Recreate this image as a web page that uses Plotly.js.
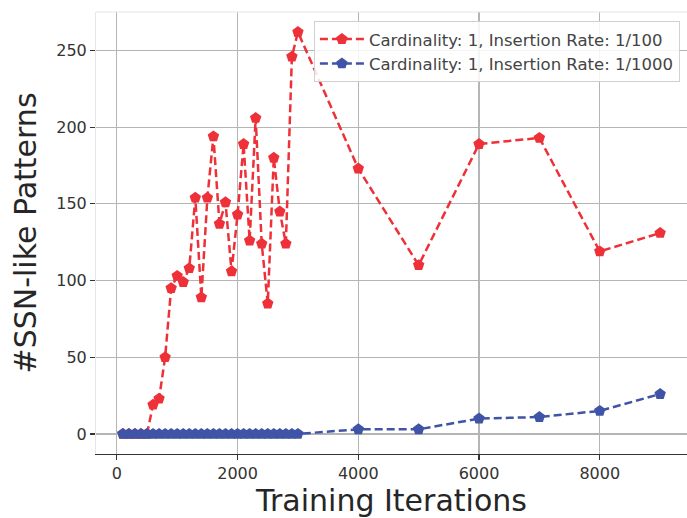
<!DOCTYPE html>
<html>
<head>
<meta charset="utf-8">
<script src="https://cdn.plot.ly/plotly-3.0.1.min.js"></script>
<style>html,body{margin:0;padding:0;background:#fff;}#chart{width:687px;height:518px;}</style>
</head>
<body>
<div id="chart"></div>
<script>
// Red series: Cardinality 1, Insertion Rate 1/100
var redX = [100,200,300,400,500,600,700,800,900,1000,1100,1200,1300,1400,1500,1600,1700,1800,1900,2000,2100,2200,2300,2400,2500,2600,2700,2800,2900,3000,4000,5000,6000,7000,8000,9000];
var redY = [0,0,0,0,0,19,23,50,95,103,99,108,154,89,154,194,137,151,106,143,189,126,206,124,85,180,145,124,246,262,173,110,189,193,119,131];
// Blue series: Cardinality 1, Insertion Rate 1/1000
var blueX = [100,200,300,400,500,600,700,800,900,1000,1100,1200,1300,1400,1500,1600,1700,1800,1900,2000,2100,2200,2300,2400,2500,2600,2700,2800,2900,3000,4000,5000,6000,7000,8000,9000];
var blueY = [0,0,0,0,0,0,0,0,0,0,0,0,0,0,0,0,0,0,0,0,0,0,0,0,0,0,0,0,0,0,3,3,10,11,15,26];
var seriesNames = ["Cardinality: 1, Insertion Rate: 1/100", "Cardinality: 1, Insertion Rate: 1/1000"];
var xTicks = [0,2000,4000,6000,8000];
var yTicks = [0,50,100,150,200,250];

var traces = [
  {x: redX, y: redY, name: seriesNames[0], type: 'scatter', mode: 'lines+markers',
   line: {color: '#ee3138', width: 2.5, dash: '8px,4px'},
   marker: {symbol: 'pentagon', size: 12, color: '#ee3138'}},
  {x: blueX, y: blueY, name: seriesNames[1], type: 'scatter', mode: 'lines+markers',
   line: {color: '#3f54a6', width: 2.5, dash: '8px,4px'},
   marker: {symbol: 'pentagon', size: 12, color: '#3f54a6'}}
];

var layout = {
  width: 687, height: 518,
  margin: {l: 96, r: 0, t: 12, b: 64},
  paper_bgcolor: '#ffffff', plot_bgcolor: '#ffffff',
  font: {family: 'DejaVu Sans', color: '#333'},
  showlegend: true,
  legend: {x: 0.988, xanchor: 'right', y: 0.98, yanchor: 'top',
    bgcolor: 'rgba(255,255,255,0.85)', bordercolor: '#d0d0d0', borderwidth: 1,
    tracegroupgap: 0, itemwidth: 44,
    font: {family: 'DejaVu Sans', size: 16.5, color: '#444'}},
  xaxis: {
    range: [-345, 9445], tickvals: xTicks, ticktext: xTicks.map(String),
    showgrid: true, gridcolor: '#b5b5b5', gridwidth: 1.2, zeroline: false,
    showline: true, linecolor: '#333', linewidth: 1.2,
    ticks: 'outside', ticklen: 5, tickcolor: '#333', tickwidth: 1.2,
    tickfont: {family: 'DejaVu Sans', size: 16, color: '#333'},
    title: {text: 'Training Iterations', font: {family: 'DejaVu Sans', size: 30, color: '#262626'}, standoff: 4}
  },
  yaxis: {
    range: [-13.1, 275.1], tickvals: yTicks, ticktext: yTicks.map(String),
    showgrid: true, gridcolor: '#b5b5b5', gridwidth: 1.2, zeroline: false,
    showline: true, linecolor: '#e6e6e6', linewidth: 1,
    ticks: 'outside', ticklen: 5, tickcolor: '#333', tickwidth: 1.2,
    tickfont: {family: 'DejaVu Sans', size: 16, color: '#333'},
    title: {text: '#SSN-like Patterns', font: {family: 'DejaVu Sans', size: 30, color: '#262626'}, standoff: 10}
  },
  shapes: [
    {type: 'line', xref: 'paper', yref: 'paper', x0: 0, x1: 1, y0: 1, y1: 1, line: {color: '#e6e6e6', width: 1}}
  ]
};

Plotly.newPlot('chart', traces, layout, {displayModeBar: false, staticPlot: true});
</script>
</body>
</html>
